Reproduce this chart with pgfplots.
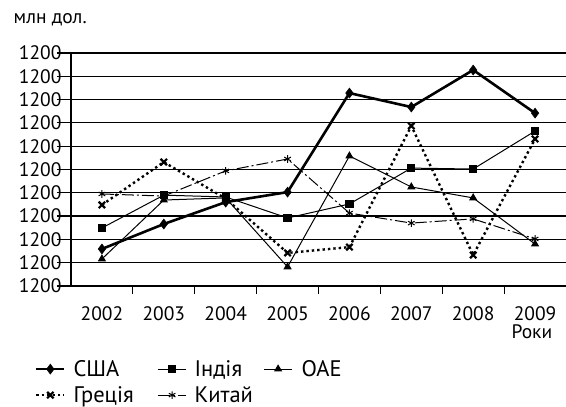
\documentclass[border=0pt]{standalone}
\usepackage{fontspec}
\setmainfont{PT Sans}
\usepackage{pgfplots}
\pgfplotsset{compat=1.18}

\begin{document}
\begin{tikzpicture}[font=\fontsize{19.5bp}{23bp}\selectfont]
\useasboundingbox (0,0) rectangle (566bp,407bp);
\begin{axis}[
    at={(71bp,121bp)}, anchor=south west,
    scale only axis,
    width=495bp, height=233bp,
    xmin=-0.5, xmax=7.5,
    ymin=0, ymax=10,
    axis x line*=bottom,
    axis y line*=left,
    axis line style={line width=1.2bp},
    xtick={0,...,7},
    xticklabels={2002,2003,2004,2005,2006,2007,2008,2009},
    major x tick style={draw=none},
    minor xtick={0.5,1.5,...,6.5},
    minor tick length=8bp,
    minor x tick style={line width=1.2bp, black},
    ytick={0,...,10},
    yticklabels={1200,1200,1200,1200,1200,1200,1200,1200,1200,1200,1200},
    major tick length=14bp,
    tick align=outside,
    major y tick style={line width=1.2bp, black},
    ymajorgrids,
    major grid style={line width=1.2bp, black},
    /pgf/number format/assume math mode=true,
    xticklabel style={anchor=base, yshift=-20bp},
    yticklabel style={anchor=east, xshift=8bp},
    xlabel={Роки},
    xlabel style={at={(axis description cs:0.931,-0.197)}, anchor=center},
    ylabel={млн дол.},
    every axis y label/.style={at={(axis description cs:-0.042,1.142)}, anchor=center},
    legend image code/.code={\draw[mark repeat=2,mark phase=2,#1] plot coordinates {(0bp,7bp) (14bp,7bp) (28bp,7bp)};},
    legend style={draw=none, fill=none, inner sep=0pt, outer sep=0pt,
        font=\fontsize{22.5bp}{26bp}\selectfont,
        at={(axis description cs:-0.0727,-0.318)}, anchor=north west,
        row sep=5bp,
        nodes={inner xsep=0bp, inner ysep=0bp, text height=16bp, text depth=5bp, anchor=base west},
        /tikz/column 1/.style={column sep=8bp},
        /tikz/column 2/.style={nodes={text width=84bp}},
        /tikz/column 3/.style={column sep=8bp},
        /tikz/column 4/.style={nodes={text width=69bp}},
        /tikz/column 5/.style={column sep=9bp}},
    legend columns=3,
    legend cell align=left,
]
% США
\addplot[black, line width=2.6bp, mark=diamond*, mark size=5bp, mark options={solid, line width=0.5bp}] coordinates
{(0,1.59) (1,2.66) (2,3.60) (3,4.03) (4,8.28) (5,7.68) (6,9.27) (7,7.42)};
% Індія
\addplot[black, line width=1bp, mark=square*, mark size=3.6bp, mark options={solid}] coordinates
{(0,2.49) (1,3.90) (2,3.82) (3,2.92) (4,3.52) (5,5.06) (6,5.02) (7,6.65)};
% ОАЕ
\addplot[black, line width=1bp, mark=triangle*, mark size=3.8bp, mark options={solid}] coordinates
{(0,1.16) (1,3.69) (2,3.78) (3,0.82) (4,5.58) (5,4.25) (6,3.78) (7,1.80)};
% Греція
\addplot[black, line width=2.4bp, dash pattern=on 2.4bp off 3bp, mark=x, mark size=4.5bp, mark options={solid, line width=2.2bp}] coordinates
{(0,3.48) (1,5.32) (2,3.75) (3,1.42) (4,1.67) (5,6.87) (6,1.33) (7,6.31)};
% Китай
\addplot[black, line width=1bp, dash pattern=on 12bp off 3bp on 2bp off 3bp, mark=asterisk, mark size=3.8bp, mark options={solid, line width=1bp}] coordinates
{(0,3.95) (1,3.86) (2,4.94) (3,5.45) (4,3.13) (5,2.70) (6,2.88) (7,2.02)};
\legend{США, Індія, ОАЕ, Греція, Китай}
\end{axis}
\end{tikzpicture}
\end{document}
